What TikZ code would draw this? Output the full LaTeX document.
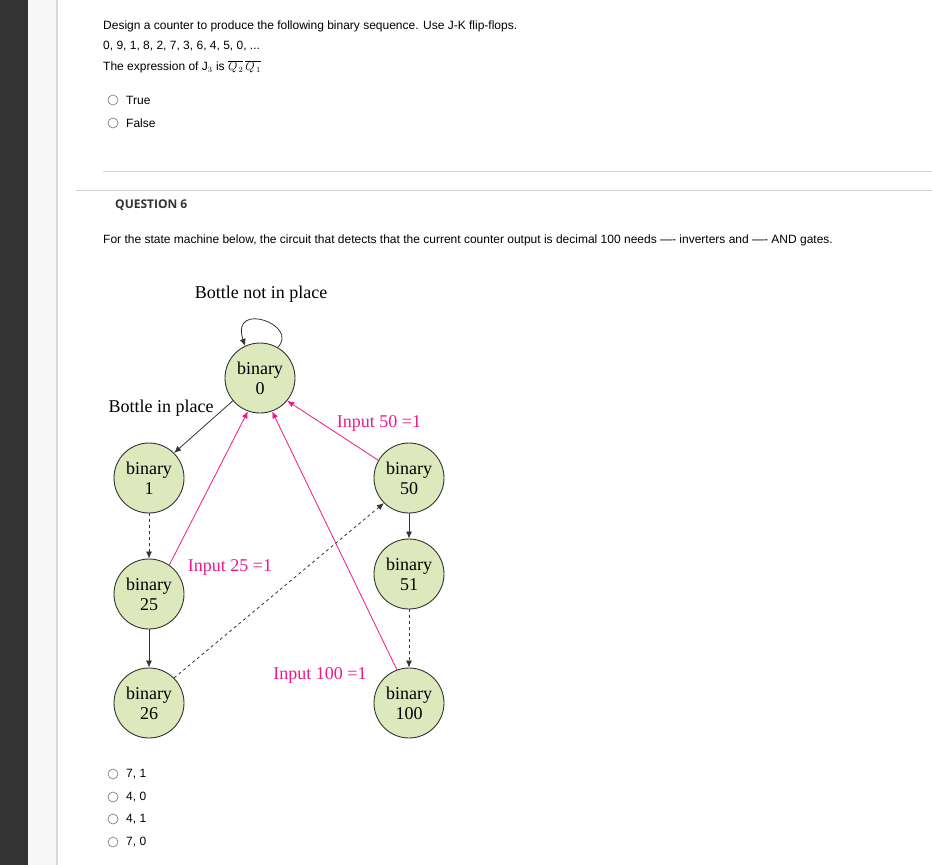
\documentclass[tikz,border=0pt]{standalone}
\usepackage{fontspec}
\setmainfont{Liberation Sans}
\newfontfamily\serf{Liberation Serif}
\newfontfamily\osans{Open Sans}
\usetikzlibrary{arrows.meta}
\definecolor{nodefill}{HTML}{DDE9BD}
\definecolor{pinkc}{HTML}{F0188C}
\begin{document}
\begin{tikzpicture}[x=1pt,y=-1pt,
 st/.style={circle,draw=black!80,fill=nodefill,line width=0.9pt,minimum size=70pt,inner sep=0pt,align=center,font=\serf\fontsize{18}{20}\selectfont},
 ui/.style={anchor=west,inner sep=0pt,font=\fontsize{12}{14}\selectfont},
 lab/.style={inner sep=0pt,font=\serf\fontsize{18}{20}\selectfont},
 blk/.style={-{Latex[length=7pt,width=6pt]},line width=0.8pt,black!80},
 pk/.style={-{Latex[length=7pt,width=6pt]},line width=0.8pt,pinkc},
 radio/.style={circle,draw=black!55,line width=0.6pt,minimum size=10pt,inner sep=0pt}]
\useasboundingbox (0,0) rectangle (932,865);
\fill[white] (0,0) rectangle (932,865);
\fill[black!80] (0,0) rectangle (28,865);
\fill[black!3] (28,0) rectangle (57,865);
\draw[black!15,line width=1.5pt] (57,0) -- (57,865);
\draw[black!18,line width=1pt] (103,171) -- (932,171);
\draw[black!18,line width=1pt] (76,190) -- (932,190);
\node[ui] (t1) at (103,26) {Design a counter to produce the following binary sequence. Use J-K flip-flops.};
\node[ui] (t2) at (103,46) {0, 9, 1, 8, 2, 7, 3, 6, 4, 5, 0, ...};
\node[ui] (t3) at (103,67) {The expression of J$_3$ is $\overline{Q_{\,2}}\,\overline{Q_{\,1}}$};
\node[radio] (r1) at (113,100) {}; \node[ui] (o1) at (126,100) {True};
\node[radio] (r2) at (113,123) {}; \node[ui] (o2) at (126,123) {False};
\node[anchor=west,inner sep=0pt,font=\osans\bfseries\fontsize{12}{14}\selectfont,text=black!80] (q6) at (115,205) {QUESTION 6};
\node[ui] (t4) at (103,240) {For the state machine below, the circuit that detects that the current counter output is decimal 100 needs ---- inverters and ---- AND gates.};
\node[st] (b0) at (260,378) {binary\\0};
\node[st] (b1) at (149,478) {binary\\1};
\node[st] (b25) at (149,594) {binary\\25};
\node[st] (b26) at (149,703) {binary\\26};
\node[st] (b50) at (409,478) {binary\\50};
\node[st] (b51) at (409,574) {binary\\51};
\node[st] (b100) at (409,703) {binary\\100};
\node[lab] (l0) at (261,294) {Bottle not in place};
\node[lab] (l1) at (161,408) {Bottle in place};
\node[lab,text=pinkc] (l50) at (379,423) {Input 50 =1};
\node[lab,text=pinkc] (l25) at (230,567) {Input 25 =1};
\node[lab,text=pinkc] (l100) at (320,675) {Input 100 =1};
\draw[blk] (b0.60) .. controls (300,325) and (230,300) .. (b0.115);
\draw[blk] (b0.220) -- (b1.45);
\draw[blk,dashed] (b1) -- (b25);
\draw[blk] (b25) -- (b26);
\draw[blk] (b50) -- (b51);
\draw[blk,dashed] (b51) -- (b100);
\draw[blk,dashed] (b26.45) -- (b50.225);
\draw[pk] (b25.55) -- (b0.250);
\draw[pk] (b100.110) -- (b0.290);
\draw[pk] (b50.150) -- (b0.320);
\node[radio] (r3) at (113,774) {}; \node[ui] (o3) at (126,774) {7, 1};
\node[radio] (r4) at (113,797) {}; \node[ui] (o4) at (126,797) {4, 0};
\node[radio] (r5) at (113,819) {}; \node[ui] (o5) at (126,819) {4, 1};
\node[radio] (r6) at (113,842) {}; \node[ui] (o6) at (126,842) {7, 0};
\end{tikzpicture}
\end{document}
